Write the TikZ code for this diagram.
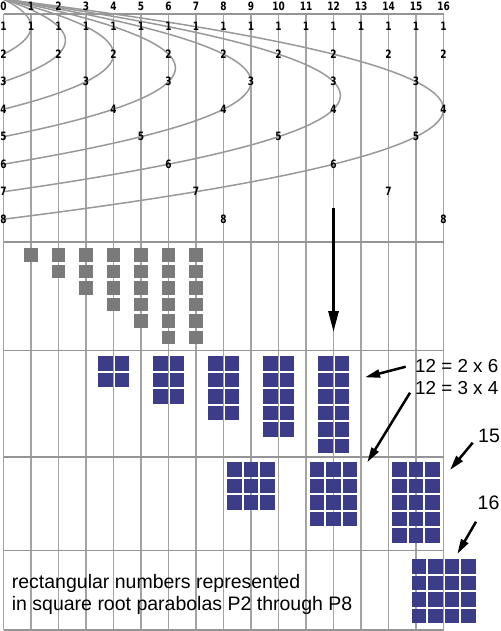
\documentclass[tikz,border=0pt]{standalone}
\usepackage{fontspec}
\setmainfont{Liberation Sans}
\newfontfamily\lblfont{DejaVu Sans}[FakeStretch=0.78]
\usetikzlibrary{arrows.meta}
\definecolor{gridgray}{HTML}{A3A3A3}
\definecolor{hgray}{HTML}{959595}
\definecolor{curvegray}{HTML}{999999}
\definecolor{sqgray}{HTML}{7A7A7A}
\definecolor{sqblue}{HTML}{3C3C88}
\newcommand{\drawarr}[4]{%
  \foreach \ii in {1,...,#1} {\foreach \jj in {1,...,#2} {
    \fill[bsq] ({3.5+27.5*#3-(#1*16.5-2)/2+16.5*(\ii-1)},{#4+16.5*(\jj-1)}) rectangle ++(14.5,14.5);
  }}%
}
\begin{document}
\begin{tikzpicture}[x=1pt,y=-1pt,
  vline/.style={draw=gridgray, line width=1.5pt},
  hline/.style={draw=hgray, line width=1.6pt},
  parab/.style={draw=curvegray, line width=1.5pt},
  lbl/.style={font=\lblfont\bfseries\fontsize{11.5}{13}\selectfont, inner sep=0pt},
  gsq/.style={fill=sqgray},
  bsq/.style={fill=sqblue},
  ptr/.style={draw=black, line width=2.5pt, -{Triangle[length=15pt,width=8pt]}},
  bigptr/.style={draw=black, line width=3pt, -{Triangle[length=21pt,width=10pt]}},
  txt/.style={font=\fontsize{19.5}{21.7}\selectfont, inner sep=0pt, anchor=base west},
  eqtxt/.style={font=\fontsize{18.8}{21.7}\selectfont, inner sep=0pt, anchor=base west}
]
\useasboundingbox (0,0) rectangle (500,631);
\fill[white] (0,0) rectangle (500,631);

% grid
\foreach \k in {0,...,16} {
  \draw[vline] ({3.5+27.5*\k},14) -- ({3.5+27.5*\k},630);
}
\foreach \yy in {14,242,350.5,457,550.5,630} {
  \draw[hline] (3.5,\yy) -- (443.5,\yy);
}

% parabolas P2..P8
\foreach \m in {2,...,8} {
  \draw[parab] plot[domain=0:\m, samples=80, smooth] ({3.5+27.5*\x*(\m-\x)},{27.5*\x-0.8});
}

% labels
\foreach \k in {0,...,16} {
  \node[lbl] (t\k) at ({3.5+27.5*\k},6) {\k};
}
\foreach \n in {1,...,8} {
  \node[lbl] (c0x\n) at (3.5,{27.5*\n-0.8}) {\n};
}
\foreach \k in {1,...,16} {
  \foreach \n in {1,...,8} {
    \pgfmathtruncatemacro{\remv}{mod(\k,\n)}
    \ifnum\remv=0
      \node[lbl] (c\k x\n) at ({3.5+27.5*\k},{27.5*\n-0.8}) {\n};
    \fi
  }
}

% grey stacks
\foreach \k/\c in {1/1,2/2,3/3,4/4,5/5,6/6,7/6} {
  \foreach \i in {1,...,\c} {
    \fill[gsq] ({3.5+27.5*\k-6.75},{248.3+16.5*(\i-1)}) rectangle ++(13.5,13.5);
  }
}

% blue arrays
\drawarr{2}{2}{4}{356}
\drawarr{2}{3}{6}{356}
\drawarr{2}{4}{8}{356}
\drawarr{2}{5}{10}{356}
\drawarr{2}{6}{12}{356}
\drawarr{3}{3}{9}{462.3}
\drawarr{3}{4}{12}{462.3}
\drawarr{3}{5}{15}{462.3}
\drawarr{4}{4}{16}{559}

% texts
\node[eqtxt] (e1) at (415,372.7) {12 = 2 x 6};
\node[eqtxt] (e2) at (415,394.3) {12 = 3 x 4};
\node[txt] (n15) at (478,442.7) {15};
\node[txt] (n16) at (477.5,509.3) {16};
\node[txt] (cap1) at (11.7,588.3) {rectangular numbers represented};
\node[txt] (cap2) at (11.7,610) {in square root parabolas P2 through P8};

% arrows
\coordinate (vs) at (333.5,208);
\coordinate (ve) at (333.5,332);
\draw[bigptr] (vs) -- (ve);
\coordinate (a1s) at (405.7,366.7);
\coordinate (a1e) at (365,377.3);
\draw[ptr] (a1s) -- (a1e);
\coordinate (a2s) at (410,392.7);
\coordinate (a2e) at (367.3,462.3);
\draw[ptr] (a2s) -- (a2e);
\coordinate (a3s) at (472.7,442.7);
\coordinate (a3e) at (450,470);
\draw[ptr] (a3s) -- (a3e);
\coordinate (a4s) at (476,521.7);
\coordinate (a4e) at (457.3,554);
\draw[ptr] (a4s) -- (a4e);
\end{tikzpicture}
\end{document}
